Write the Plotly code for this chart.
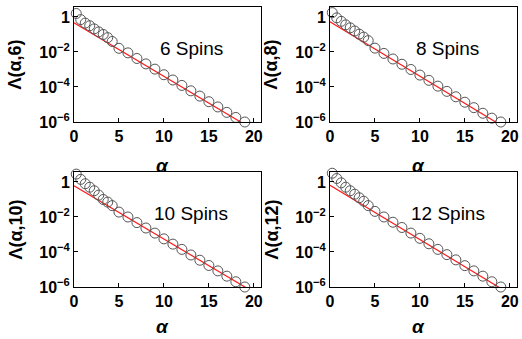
import plotly.graph_objects as go

W, H = 522, 339

# ---- data ----
alpha = [0.25, 0.75, 1.25, 1.75, 2.25, 2.75, 3.25, 3.75, 4.25,
         5, 6, 7, 8, 9, 10, 11, 12, 13, 14, 15, 16, 17, 18, 19]

log_lam_6 = [0.2, -0.15, -0.35, -0.5, -0.68, -0.85, -1.0, -1.18, -1.4,
             -1.79, -2.05, -2.37, -2.68, -2.98, -3.3, -3.6, -3.91, -4.22, -4.52, -4.84, -5.14, -5.45, -5.74, -6.0]
log_lam_8 = [0.25, -0.05, -0.25, -0.45, -0.62, -0.8, -0.98, -1.15, -1.35,
             -1.78, -2.08, -2.4, -2.7, -3.0, -3.32, -3.62, -3.95, -4.25, -4.56, -4.87, -5.18, -5.5, -5.78, -6.0]
log_lam_10 = [0.45, 0.15, -0.1, -0.3, -0.5, -0.75, -1.0, -1.15, -1.35,
              -1.72, -2.0, -2.32, -2.63, -2.92, -3.25, -3.55, -3.85, -4.17, -4.47, -4.77, -5.08, -5.38, -5.7, -6.0]
log_lam_12 = [0.5, 0.2, -0.05, -0.3, -0.5, -0.7, -0.9, -1.1, -1.35,
              -1.68, -2.0, -2.3, -2.6, -2.92, -3.22, -3.53, -3.85, -4.15, -4.45, -4.78, -5.08, -5.38, -5.7, -6.0]

fit_alpha = [0, 20]
fit_log_6 = [-0.33, -6.45]
fit_log_8 = [-0.27, -6.49]
fit_log_10 = [-0.22, -6.3]
fit_log_12 = [-0.19, -6.39]

spins = [6, 8, 10, 12]
ytick_vals = [1, 1e-2, 1e-4, 1e-6]
ytick_text = ["1", "10<sup>−2</sup>", "10<sup>−4</sup>", "10<sup>−6</sup>"]
xtick_vals = [0, 5, 10, 15, 20]

series = [log_lam_6, log_lam_8, log_lam_10, log_lam_12]
fits = [fit_log_6, fit_log_8, fit_log_10, fit_log_12]

# ---- layout (pixel boxes of each panel) ----
boxes = [(74, 261, 7, 122), (330, 517, 7, 122), (74, 261, 172, 287), (330, 517, 172, 287)]
label_pos = [(191, 48), (447, 48), (191, 213), (448, 213)]
xtitle_gap = [43, 43, 39, 39]

fig = go.Figure()
annotations = []
font_fam = "Liberation Sans, Arial, sans-serif"

for i in range(4):
    xa = "x" if i == 0 else f"x{i+1}"
    ya = "y" if i == 0 else f"y{i+1}"
    ys = [10 ** v for v in series[i]]
    yf = [10 ** v for v in fits[i]]
    fig.add_trace(go.Scatter(x=fit_alpha, y=yf, mode="lines",
                             line=dict(color="#ff1a1a", width=1.2),
                             xaxis=xa, yaxis=ya, showlegend=False, hoverinfo="skip"))
    fig.add_trace(go.Scatter(x=alpha, y=ys, mode="markers",
                             marker=dict(symbol="circle-open", size=10, color="#555555",
                                         line=dict(width=1, color="#555555")),
                             cliponaxis=False,
                             xaxis=xa, yaxis=ya, showlegend=False))
    x0, x1, y0, y1 = boxes[i]
    xdom = [x0 / W, x1 / W]
    ydom = [1 - y1 / H, 1 - y0 / H]
    ax_common = dict(showline=True, linecolor="black", linewidth=1, mirror=True,
                     ticks="inside", ticklen=4, tickcolor="black", showgrid=False,
                     zeroline=False, automargin=False,
                     tickfont=dict(family=font_fam, size=16, color="black", weight="bold"))
    fig.update_layout(**{
        ("xaxis" if i == 0 else f"xaxis{i+1}"): dict(domain=xdom, range=[0, 20.8],
                                                    tickvals=xtick_vals,
                                                    anchor=ya, **ax_common),
        ("yaxis" if i == 0 else f"yaxis{i+1}"): dict(domain=ydom, type="log",
                                                    range=[-6, 0.57],
                                                    tickvals=ytick_vals, ticktext=ytick_text,
                                                    anchor=xa, **ax_common),
    })
    # x title
    annotations.append(dict(text="<b><i>α</i></b>", x=(x0 + x1) / 2 / W - 0.01,
                            y=1 - (y1 + xtitle_gap[i]) / H, xref="paper", yref="paper",
                            showarrow=False, xanchor="center", yanchor="middle",
                            font=dict(family=font_fam, size=19, color="black")))
    # y title
    annotations.append(dict(text=f"<b>Λ(α,{spins[i]})</b>",
                            x=(x0 - 59) / W, y=1 - ((y0 + y1) / 2) / H,
                            xref="paper", yref="paper", textangle=-90,
                            showarrow=False, xanchor="center", yanchor="middle",
                            font=dict(family=font_fam, size=18, color="black")))
    lx, ly = label_pos[i]
    annotations.append(dict(text=f"{spins[i]} Spins", x=lx / W, y=1 - ly / H,
                            xref="paper", yref="paper", showarrow=False,
                            xanchor="center", yanchor="middle",
                            font=dict(family=font_fam, size=19, color="black")))

fig.update_layout(width=W, height=H, margin=dict(l=0, r=0, t=0, b=0),
                  paper_bgcolor="white", plot_bgcolor="white",
                  annotations=annotations)

fig.write_html("out.html", config={"displayModeBar": False},
               post_script="document.body.style.margin='0';document.body.style.overflow='hidden';")
